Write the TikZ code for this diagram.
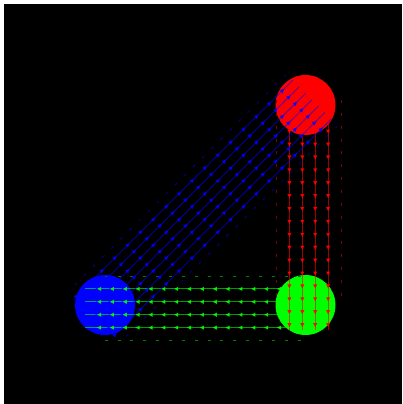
\documentclass[tikz,border=0pt]{standalone}
\usepackage{tikz}
\usetikzlibrary{arrows.meta,calc,decorations.markings}

\begin{document}
\begin{tikzpicture}[
    x=1pt, y=-1pt,
    >=Latex,
    hub/.style={circle, minimum size=60pt, inner sep=0pt, draw=none},
    flow/.style={
        line width=0.9pt, draw opacity=0.6,
        postaction={decorate},
        decoration={markings,
            mark=between positions 0 and 1 step #1 with {\arrow[opacity=0.85]{Latex[length=4.5pt,width=4.5pt]}}}
    },
    faint/.style={line width=1pt, dash pattern=on 3pt off 9.85pt}
]
    % Frame
    \fill[white] (0,0) rectangle (402,404);
    \fill[black] (4,4) rectangle (402,404);

    % Hubs
    \node[hub, fill=red] (rhub) at (305.5,105) {};
    \node[hub, fill=blue] (bhub) at (105,305) {};
    \node[hub, fill=green] (ghub) at (305.5,305) {};

    % Faint edge lines
    \foreach \dx in {-29,35.5}
        \draw[faint, red!50!black] ($(rhub)+(\dx,-5)$) -- ($(ghub)+(\dx,-5)$);
    \foreach \dy in {-29,35.5}
        \draw[faint, green!50!black] ($(ghub)+(-5,\dy)$) -- ($(bhub)+(-10,\dy)$);
    \foreach \o in {-25.1,26.3}
        \draw[faint, blue!50!black] ($(bhub)+(\o-5,\o+5)$) -- ($(rhub)+(\o+5,\o-5)$);

    % Red to green
    \foreach \dx in {-16.1,-3.2,9.7,22.6}
        \draw[flow=12.9pt, red] ($(rhub)+(\dx,3.3)$) -- ($(ghub)+(\dx,25)$);

    % Green to blue
    \foreach \dy in {-16.1,-3.2,9.7,22.6}
        \draw[flow=12.85pt, green] ($(ghub)+(-3.3,\dy)$) -- ($(bhub)+(-20,\dy)$);

    % Blue to red
    \foreach \o in {-18.7,-12.3,-5.8,0.6,7.0,13.4,19.9}
        \draw[flow=18.2pt, blue] ($(bhub)+(\o-8,\o+8)$) -- ($(rhub)+(\o+6,\o-6)$);

\end{tikzpicture}
\end{document}
